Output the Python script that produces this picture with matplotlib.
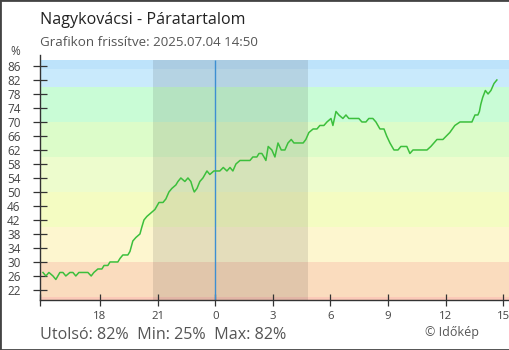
import matplotlib
matplotlib.use('Agg')
import matplotlib.pyplot as plt
from matplotlib.patches import Rectangle

plt.rcParams['font.family'] = ['Open Sans', 'DejaVu Sans']

# relative humidity, hours from midnight (negative = previous day)
hours = [-8.97, -8.82, -8.66, -8.45, -8.30, -8.09, -7.93, -7.78, -7.57, -7.41,
         -7.26, -7.10, -6.63, -6.46, -6.32, -6.11, -5.90, -5.79, -5.59, -5.48,
         -5.07, -4.96, -4.81, -4.55, -4.44, -4.29, -4.13, -3.92, -3.82, -3.71,
         -3.56, -3.35, -3.14, -2.93, -2.72, -2.57, -2.41, -2.26, -2.05, -1.94,
         -1.79, -1.58, -1.42, -1.27, -1.16, -1.09, -0.95, -0.80, -0.64, -0.43,
         -0.28, -0.07, 0.24, 0.42, 0.61, 0.77, 0.92, 1.08, 1.29, 1.81,
         1.96, 2.17, 2.28, 2.43, 2.54, 2.64, 2.76, 2.95, 3.11, 3.27,
         3.44, 3.63, 3.79, 3.96, 4.10, 4.58, 4.72, 4.88, 5.10, 5.30,
         5.45, 5.66, 5.82, 6.03, 6.13, 6.29, 6.44, 6.65, 6.81, 6.96,
         7.48, 7.64, 7.85, 8.00, 8.21, 8.37, 8.58, 8.79, 8.93, 9.10,
         9.31, 9.52, 9.67, 9.98, 10.14, 10.30, 10.40, 10.66, 11.03, 11.23,
         11.55, 11.86, 12.22, 12.48, 12.75, 13.37, 13.53, 13.68, 13.76, 13.83,
         13.93, 14.07, 14.21, 14.36, 14.52, 14.67]
humidity = [27, 26, 27, 26, 25, 27, 27, 26, 27, 27,
            26, 27, 27, 26, 27, 28, 28, 29, 29, 30,
            30, 31, 32, 32, 33, 36, 37, 38, 40, 42,
            43, 44, 45, 47, 47, 48, 50, 51, 52, 53,
            54, 53, 54, 53, 51, 50, 51, 53, 54, 56,
            55, 56, 56, 57, 56, 57, 56, 58, 59, 59,
            60, 60, 61, 61, 60, 59, 63, 62, 60, 64,
            62, 62, 64, 65, 64, 64, 65, 67, 68, 68,
            69, 69, 70, 71, 69, 73, 72, 71, 72, 71,
            71, 70, 70, 71, 71, 70, 68, 68, 66, 64,
            62, 62, 63, 63, 61, 62, 62, 62, 62, 63,
            65, 65, 67, 69, 70, 70, 72, 72, 73, 75,
            77, 79, 78, 79, 81, 82]

tick_hours = [-6, -3, 0, 3, 6, 9, 12, 15]
tick_labels = ['18', '21', '0', '3', '6', '9', '12', '15']
y_ticks = list(range(22, 87, 4))

# background colour bands (lower, upper, colour)
band_edges = [19.14, 20, 30, 40, 50, 60, 70, 80, 85, 87.7]
band_colors = ['#fbc9b8', '#fadcbe', '#fdf6cf', '#f4fcc2', '#edfccd',
               '#dcfcc9', '#c9fcd6', '#c9eafc', '#bde3fb']
night = (-3.24, 4.81)
updated = '2025.07.04 14:50'

fig = plt.figure(figsize=(5.1, 3.5), dpi=100)
ax = fig.add_axes([0.079, 0.1429, 0.919, 0.70])

for lo, hi, c in zip(band_edges[:-1], band_edges[1:], band_colors):
    ax.axhspan(lo, hi, color=c, lw=0, zorder=0)
ax.fill_between(night, band_edges[0], band_edges[-1], color='#1a1a1a',
                alpha=0.11, lw=0, zorder=1)
ax.vlines(0, band_edges[0], band_edges[-1], color='#3d8fd2', lw=1.0, zorder=2)

ax.plot(hours, humidity, color='#3cbf3c', lw=1.1, zorder=3)

ax.set_xlim(-9.11, 15.3)
ax.set_ylim(19.14, 89.14)
ax.set_xticks(tick_hours)
ax.set_xticklabels(tick_labels)
ax.set_xticks([-9.11], minor=True)
ax.set_yticks(y_ticks)

for s in ['top', 'right']:
    ax.spines[s].set_visible(False)
for s in ['left', 'bottom']:
    ax.spines[s].set_color('#333333')
    ax.spines[s].set_linewidth(1.0)

ax.tick_params(axis='y', direction='inout', length=9.5, width=0.9,
               color='#333333', labelcolor='#444444', labelsize=8.5, pad=9.5)
ax.tick_params(axis='x', which='both', direction='inout', length=8.6, width=0.9,
               color='#333333', labelcolor='#444444', labelsize=8.2, pad=3.5)

fig.text(40 / 510, 1 - 24.5 / 350, 'Nagykovácsi - Páratartalom',
         fontsize=11.6, color='#222222', ha='left', va='baseline')
fig.text(40 / 510, 1 - 45.7 / 350, f'Grafikon frissítve: {updated}',
         fontsize=9.6, color='#555555', ha='left', va='baseline')
fig.text(15 / 510, 1 - 55 / 350, '%', fontsize=8.5, color='#444444',
         ha='center', va='baseline')
fig.text(40 / 510, 1 - 339 / 350,
         f'Utolsó: {humidity[-1]}%  Min: {min(humidity)}%  Max: {max(humidity)}%',
         fontsize=11.6, color='#555555', ha='left', va='baseline')
fig.text(425 / 510, 1 - 335.7 / 350, '© Időkép', fontsize=9,
         color='#555555', ha='left', va='baseline')

# thin frame around the whole image
fig.patches.append(Rectangle((0, 0), 1, 1, transform=fig.transFigure,
                             fill=False, edgecolor='#444444', lw=2.0))

fig.savefig('out.png', dpi=100)
plt.close(fig)
